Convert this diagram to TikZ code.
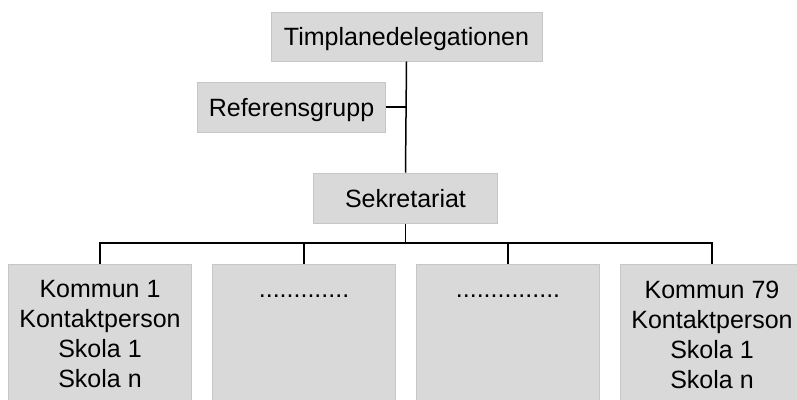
\documentclass[tikz,border=0pt]{standalone}
\usepackage{fontspec}
\setmainfont{Liberation Sans}
\usepackage{tikz}

\definecolor{boxfill}{HTML}{D9D9D9}
\definecolor{boxedge}{HTML}{C6C6C6}

\begin{document}
\begin{tikzpicture}[x=1pt, y=-1pt, line width=1.5pt,
                    font=\fontsize{25}{30}\selectfont,
                    org box/.style={draw=boxedge, fill=boxfill, line width=1pt,
                                    inner sep=0pt, text height=18pt, text depth=0pt},
                    kommun box/.style={draw=boxedge, fill=boxfill, line width=1pt,
                                       anchor=north, minimum width=183pt, minimum height=150pt},
                    kommun text/.style={anchor=north, align=center, inner sep=0pt, yshift=-16pt}]

  \useasboundingbox (0,0) rectangle (797,399);

  \node[org box, minimum width=271pt, minimum height=49pt] (tim) at (406.5,36.5) {Timplanedelegationen};
  \node[org box, minimum width=188pt, minimum height=50pt] (ref) at (291.5,107) {Referensgrupp};
  \node[org box, minimum width=184pt, minimum height=50pt] (sek) at (405.5,198) {Sekretariat};

  \node[kommun box] (k1) at (100,264) {};
  \node[kommun box] (k2) at (304,264) {};
  \node[kommun box] (k3) at (508,264) {};
  \node[kommun box] (k4) at (712,264) {};

  \node[kommun text] (k1text) at (k1.north) {Kommun 1\\Kontaktperson\\Skola 1\\Skola n};
  \node[kommun text] (k2text) at (k2.north) {\vphantom{K}.............};
  \node[kommun text] (k3text) at (k3.north) {\vphantom{K}...............};
  \node[kommun text] (k4text) at (k4.north) {Kommun 79\\Kontaktperson\\Skola 1\\Skola n};

  \coordinate (bar) at (405.5,243);

  \draw (tim.south) -- (sek.north);
  \draw (ref.east) -- (ref.east -| tim.south);
  \draw (sek.south) -- (bar);
  \draw (k1.north) |- (bar) -| (k4.north);
  \draw (k2.north) -- (k2.north |- bar);
  \draw (k3.north) -- (k3.north |- bar);
\end{tikzpicture}
\end{document}
